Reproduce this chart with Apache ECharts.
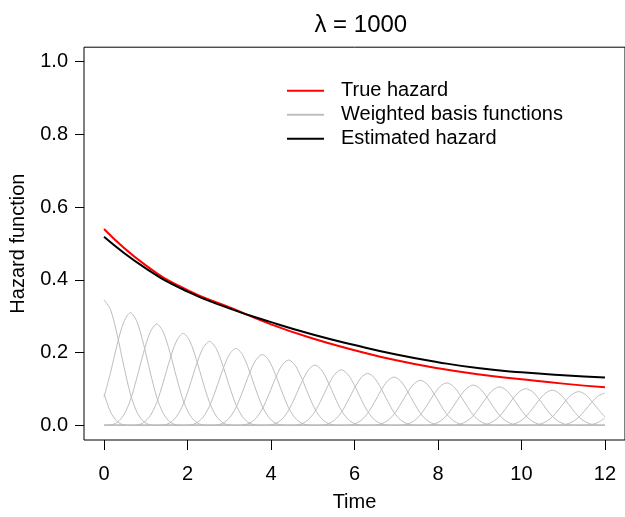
<!DOCTYPE html>
<html><head><meta charset="utf-8">
<script src="https://cdn.jsdelivr.net/npm/echarts@6/dist/echarts.min.js"></script>
<style>html,body{margin:0;padding:0;background:#fff}#chart{width:625px;height:517px}</style>
</head><body><div id="chart"></div>
<script>
// ---- data ----
const timePoints = [0, 1, 2, 3, 4, 5, 6, 7, 8, 9, 10, 11, 12];
const trueHazard = [0.540, 0.440, 0.372, 0.325, 0.278, 0.239, 0.207, 0.179, 0.157, 0.140, 0.127, 0.115, 0.105];
const estimatedHazard = [0.519, 0.432, 0.368, 0.322, 0.284, 0.250, 0.221, 0.195, 0.174, 0.157, 0.146, 0.138, 0.132];
const basisCenters = [-0.6316, 0, 0.6316, 1.2632, 1.8947, 2.5263, 3.1579, 3.7895, 4.4211, 5.0526, 5.6842,
  6.3158, 6.9474, 7.5789, 8.2105, 8.8421, 9.4737, 10.1053, 10.7368, 11.3684, 12, 12.6316];
const basisPeaks = [0.350, 0.346, 0.310, 0.279, 0.253, 0.231, 0.212, 0.195, 0.180, 0.166, 0.153,
  0.143, 0.133, 0.124, 0.117, 0.111, 0.106, 0.101, 0.097, 0.093, 0.089, 0.083];
const bumpOffsets = [-1.2632, -1.1053, -0.9474, -0.7895, -0.6316, -0.4737, -0.3158, -0.1579, 0,
  0.1579, 0.3158, 0.4737, 0.6316, 0.7895, 0.9474, 1.1053, 1.2632];
const bumpProfile = [0, 0.004, 0.031, 0.105, 0.25, 0.473, 0.719, 0.918, 1,
  0.918, 0.719, 0.473, 0.25, 0.105, 0.031, 0.004, 0];
const xTicks = [0, 2, 4, 6, 8, 10, 12];
const yTicks = [0, 0.2, 0.4, 0.6, 0.8, 1.0];
const titleText = 'λ = 1000';
const legendNames = ['True hazard', 'Weighted basis functions', 'Estimated hazard'];

// ---- build ----
const FONT = 'Liberation Sans, Arial, sans-serif';
const T0 = xTicks[0], T1 = xTicks[xTicks.length - 1];

function bumpData(center, peak) {
  const pts = [];
  for (let j = 0; j < bumpOffsets.length; j++) {
    let x = center + bumpOffsets[j];
    if (x < T0 - 0.005 || x > T1 + 0.005) continue;
    x = Math.min(T1, Math.max(T0, x));
    pts.push([x, peak * bumpProfile[j]]);
  }
  if (pts.length && pts[0][0] > T0 + 0.005) pts.unshift([T0, 0]);
  if (pts.length && pts[pts.length - 1][0] < T1 - 0.005) pts.push([T1, 0]);
  return pts;
}

const series = [];
basisCenters.forEach((c, i) => {
  series.push({
    name: legendNames[1], type: 'line', symbol: 'none', smooth: 0.3,
    lineStyle: { color: '#BEBEBE', width: 1 }, itemStyle: { color: '#BEBEBE' },
    data: bumpData(c, basisPeaks[i]), z: 2, silent: true, animation: false
  });
});
series.push({
  name: legendNames[0], type: 'line', symbol: 'none', smooth: true,
  lineStyle: { color: '#FF0000', width: 2 }, itemStyle: { color: '#FF0000' },
  data: timePoints.map((t, i) => [t, trueHazard[i]]), z: 3, animation: false
});
series.push({
  name: legendNames[2], type: 'line', symbol: 'none', smooth: true,
  lineStyle: { color: '#000000', width: 2 }, itemStyle: { color: '#000000' },
  data: timePoints.map((t, i) => [t, estimatedHazard[i]]), z: 4, animation: false
});

const chart = echarts.init(document.getElementById('chart'), null, { renderer: 'canvas' });
chart.setOption({
  animation: false,
  backgroundColor: '#fff',
  textStyle: { fontFamily: FONT },
  title: {
    text: titleText, left: 355.8, top: 8, textAlign: 'center',
    textStyle: { fontFamily: FONT, fontSize: 24, fontWeight: 'normal', color: '#000', lineHeight: 24 }
  },
  legend: {
    data: legendNames, orient: 'vertical', left: 286, top: 78.7, padding: 0, itemGap: 0,
    itemWidth: 37, itemHeight: 24,
    itemStyle: { color: 'rgba(0,0,0,0)', borderWidth: 0, opacity: 0 },
    textStyle: { fontFamily: FONT, fontSize: 20, color: '#000', lineHeight: 24, padding: [0, 0, 0, 12] },
    selectedMode: false
  },
  grid: {
    left: 83.4, top: 47.2, width: 544.8, height: 398.6,
    show: true, borderColor: '#000', borderWidth: 1, backgroundColor: 'transparent'
  },
  xAxis: {
    type: 'value', min: -0.48, max: 12.48,
    name: 'Time', nameLocation: 'middle', nameGap: 52,
    nameTextStyle: { fontFamily: FONT, fontSize: 20, color: '#000', lineHeight: 20 },
    axisLine: { show: false, onZero: false },
    axisTick: { show: true, inside: false, customValues: xTicks, length: 10, lineStyle: { color: '#000', width: 1 } },
    axisLabel: { customValues: xTicks, fontFamily: FONT, fontSize: 20, color: '#000', margin: 24, lineHeight: 20 },
    splitLine: { show: false }
  },
  yAxis: {
    type: 'value', min: -0.04, max: 1.04,
    name: 'Hazard function', nameLocation: 'middle', nameGap: 56,
    nameTextStyle: { fontFamily: FONT, fontSize: 20, color: '#000', lineHeight: 20 },
    axisLine: { show: false, onZero: false },
    axisTick: { show: true, inside: false, customValues: yTicks, length: 9, lineStyle: { color: '#000', width: 1 } },
    axisLabel: { customValues: yTicks, fontFamily: FONT, fontSize: 20, color: '#000', margin: 16,
      formatter: v => v.toFixed(1) },
    splitLine: { show: false }
  },
  series: series
});
</script></body></html>
